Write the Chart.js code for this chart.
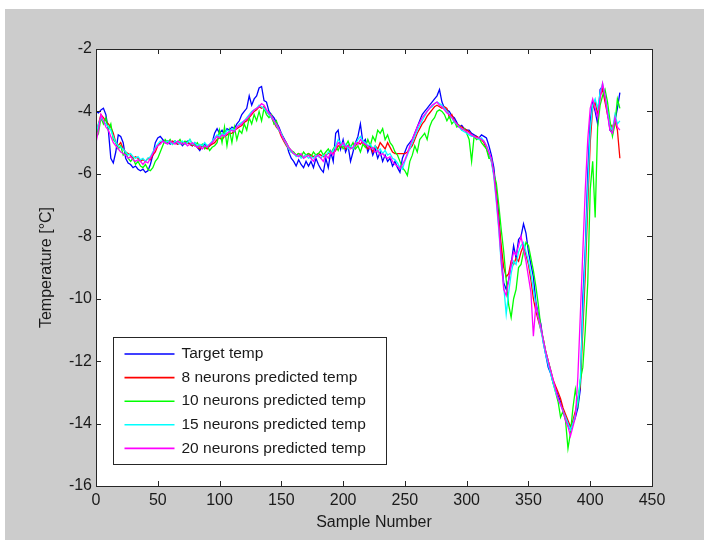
<!DOCTYPE html>
<html><head><meta charset="utf-8">
<script src="https://cdn.jsdelivr.net/npm/chart.js@4"></script>
<style>html,body{margin:0;padding:0;background:#fff;}#wrap{width:704px;height:540px;}</style>
</head><body><div id="wrap"><canvas id="c" width="704" height="540"></canvas></div>
<script>
const sampleStep = 2;
const seriesLabels = ['Target temp','8 neurons predicted temp','10 neurons predicted temp','15 neurons predicted temp','20 neurons predicted temp'];
const seriesColors = ['#0000ff','#ff0000','#00ff00','#00ffff','#ff00ff'];
const xTicks = [0,50,100,150,200,250,300,350,400,450];
const yTicks = [-16,-14,-12,-10,-8,-6,-4,-2];

const target = [
-4.0,-4.05,-3.95,-3.9,-4.1,-4.6,-5.5,-5.65,-5.3,-4.75,
-4.8,-5.0,-5.5,-5.65,-5.7,-5.8,-5.75,-5.85,-5.9,-5.85,
-5.95,-5.9,-5.7,-5.4,-5.0,-4.85,-4.8,-4.9,-5.0,-4.95,
-5.05,-5.0,-4.95,-5.05,-5.0,-5.1,-5.0,-4.95,-5.05,-5.1,
-5.0,-5.15,-5.25,-5.1,-5.05,-5.15,-5.1,-5.0,-4.7,-4.55,
-4.7,-4.6,-4.75,-4.55,-4.6,-4.5,-4.55,-4.4,-4.3,-4.1,
-4.0,-3.9,-3.5,-3.8,-3.6,-3.5,-3.25,-3.2,-3.65,-3.7,
-4.0,-4.1,-4.2,-4.35,-4.5,-4.7,-4.85,-5.0,-5.3,-5.5,
-5.6,-5.75,-5.55,-5.7,-5.8,-5.6,-5.75,-5.6,-5.8,-5.5,
-5.7,-5.85,-5.95,-5.5,-5.8,-5.3,-5.6,-4.7,-4.6,-5.2,
-4.9,-5.3,-5.1,-5.6,-5.3,-5.0,-4.8,-4.4,-5.0,-4.9,
-5.3,-5.1,-5.4,-5.2,-5.5,-5.3,-5.6,-5.4,-5.6,-5.5,
-5.75,-5.6,-5.8,-5.95,-5.5,-5.3,-5.1,-5.0,-4.9,-4.7,
-4.5,-4.3,-4.1,-4.0,-3.9,-3.8,-3.7,-3.6,-3.5,-3.3,
-3.7,-3.9,-3.95,-4.0,-4.15,-4.2,-4.35,-4.5,-4.45,-4.55,
-4.6,-4.6,-4.7,-4.75,-4.8,-4.85,-4.75,-4.8,-4.85,-5.1,
-5.4,-5.8,-6.6,-7.3,-8.7,-9.5,-9.7,-9.4,-8.9,-8.3,
-8.7,-8.1,-8.0,-7.6,-7.9,-8.5,-8.9,-9.3,-10.1,-10.5,
-10.8,-11.4,-11.8,-12.2,-12.4,-12.7,-12.9,-13.1,-13.3,-13.6,
-13.8,-14.0,-14.2,-14.0,-13.8,-13.5,-12.9,-10.0,-8.4,-6.0,
-4.3,-3.7,-4.0,-4.4,-3.3,-3.2,-3.6,-4.0,-4.6,-4.7,
-4.3,-3.9,-3.4];

const pred8 = [
-4.8,-4.4,-4.1,-4.2,-4.3,-4.4,-4.5,-4.7,-5.0,-5.1,
-5.0,-5.2,-5.3,-5.35,-5.4,-5.5,-5.45,-5.5,-5.6,-5.55,
-5.6,-5.5,-5.55,-5.4,-5.3,-5.1,-5.0,-4.95,-5.0,-4.95,
-5.0,-4.95,-5.0,-5.05,-5.0,-5.0,-5.05,-5.0,-5.05,-5.1,
-5.05,-5.15,-5.2,-5.1,-5.15,-5.2,-5.1,-5.05,-5.0,-4.9,
-4.85,-4.9,-4.8,-4.75,-4.7,-4.7,-4.6,-4.55,-4.5,-4.45,
-4.35,-4.3,-4.2,-4.1,-4.0,-3.95,-3.85,-3.9,-3.85,-4.0,
-4.1,-4.2,-4.35,-4.5,-4.6,-4.8,-4.95,-5.1,-5.2,-5.3,
-5.35,-5.4,-5.35,-5.4,-5.45,-5.4,-5.35,-5.4,-5.45,-5.4,
-5.35,-5.4,-5.45,-5.4,-5.35,-5.3,-5.35,-5.25,-5.1,-5.15,
-5.1,-5.2,-5.1,-5.15,-5.2,-5.1,-5.0,-5.05,-4.95,-5.1,
-5.2,-5.1,-5.3,-5.1,-5.2,-5.0,-5.1,-5.2,-5.0,-5.15,
-5.3,-5.35,-5.35,-5.35,-5.35,-5.35,-5.3,-5.2,-5.1,-4.9,
-4.7,-4.55,-4.4,-4.3,-4.15,-4.05,-3.95,-3.85,-3.8,-3.85,
-3.9,-3.85,-3.9,-4.2,-4.1,-4.3,-4.4,-4.45,-4.5,-4.55,
-4.6,-4.65,-4.75,-4.8,-4.8,-4.85,-4.9,-5.0,-5.2,-5.4,
-5.6,-6.0,-6.6,-7.5,-8.3,-9.0,-9.3,-9.2,-8.8,-8.9,
-8.7,-8.8,-8.5,-8.3,-8.6,-8.9,-9.4,-10.0,-10.4,-10.7,
-11.0,-11.3,-11.7,-12.0,-12.3,-12.6,-12.8,-13.0,-13.2,-13.5,
-13.7,-13.9,-14.1,-13.9,-13.6,-13.2,-12.8,-11.0,-9.2,-7.0,
-5.0,-3.9,-3.7,-4.1,-3.5,-3.3,-3.7,-4.1,-4.4,-4.5,
-4.3,-4.6,-5.5];

const pred10 = [
-4.5,-4.7,-4.2,-4.4,-4.2,-4.6,-4.4,-4.9,-5.0,-5.2,
-5.1,-5.4,-5.3,-5.5,-5.6,-5.5,-5.7,-5.6,-5.75,-5.8,
-5.7,-5.85,-5.9,-5.8,-5.6,-5.5,-5.3,-5.1,-4.9,-5.0,
-4.9,-5.05,-4.95,-5.0,-4.9,-5.05,-4.95,-5.0,-4.9,-5.05,
-5.1,-5.0,-5.15,-5.05,-5.2,-5.1,-5.25,-5.15,-5.1,-5.0,
-4.6,-5.0,-4.5,-5.1,-4.6,-5.0,-4.5,-4.9,-4.6,-4.7,
-4.4,-4.6,-4.2,-4.4,-4.1,-4.3,-4.0,-4.3,-3.9,-4.1,
-4.2,-4.1,-4.4,-4.3,-4.6,-4.7,-4.9,-5.0,-5.15,-5.25,
-5.3,-5.4,-5.35,-5.45,-5.3,-5.4,-5.35,-5.45,-5.3,-5.4,
-5.35,-5.25,-5.4,-5.3,-5.2,-5.35,-5.2,-5.1,-5.25,-5.05,
-5.2,-5.1,-4.95,-5.15,-5.0,-5.2,-5.1,-5.3,-5.05,-5.15,
-4.9,-5.1,-4.8,-4.95,-4.6,-4.7,-4.55,-4.9,-4.75,-5.0,
-5.1,-5.3,-5.4,-5.6,-5.8,-5.9,-6.05,-5.6,-5.4,-5.1,
-5.3,-4.9,-4.8,-4.7,-4.9,-4.5,-4.3,-4.2,-4.0,-3.95,
-4.0,-4.1,-4.3,-4.15,-4.4,-4.3,-4.5,-4.45,-4.6,-4.55,
-4.7,-4.9,-5.6,-4.8,-4.9,-4.85,-5.0,-5.1,-5.2,-5.5,
-5.5,-6.0,-6.3,-7.0,-7.8,-8.5,-9.4,-10.2,-10.6,-10.0,
-9.7,-9.0,-8.9,-8.5,-8.2,-8.3,-8.7,-9.1,-9.6,-10.2,
-10.9,-11.3,-11.7,-12.0,-12.3,-12.7,-13.0,-13.3,-13.8,-13.6,
-13.9,-14.8,-14.3,-13.5,-12.9,-13.4,-12.6,-12.2,-11.0,-9.5,
-6.5,-5.6,-7.4,-4.5,-3.8,-3.5,-3.3,-3.7,-4.3,-4.8,
-4.4,-3.6,-3.9];

const pred15 = [
-4.7,-4.4,-4.2,-4.3,-4.4,-4.5,-4.6,-4.8,-5.0,-5.1,
-5.15,-5.2,-5.3,-5.4,-5.35,-5.45,-5.5,-5.45,-5.55,-5.5,
-5.6,-5.5,-5.45,-5.3,-5.15,-5.05,-4.95,-4.95,-5.0,-4.95,
-5.0,-5.05,-4.95,-5.0,-5.05,-4.95,-5.05,-5.0,-4.9,-5.05,
-5.0,-5.1,-5.05,-5.1,-5.0,-5.1,-5.05,-4.95,-4.85,-4.75,
-4.8,-4.7,-4.75,-4.6,-4.65,-4.55,-4.6,-4.5,-4.4,-4.35,
-4.3,-4.2,-4.1,-4.0,-3.95,-3.9,-3.8,-3.85,-3.9,-4.0,
-4.1,-4.2,-4.3,-4.45,-4.6,-4.7,-4.9,-5.05,-5.2,-5.3,
-5.35,-5.45,-5.4,-5.5,-5.45,-5.4,-5.5,-5.45,-5.5,-5.4,
-5.45,-5.5,-5.4,-5.45,-5.3,-5.35,-5.25,-5.1,-4.9,-5.0,
-5.1,-5.05,-5.2,-5.1,-5.2,-5.05,-4.9,-4.8,-4.95,-5.0,
-5.1,-5.05,-5.2,-5.1,-5.3,-5.2,-5.35,-5.25,-5.4,-5.35,
-5.5,-5.55,-5.65,-5.8,-5.85,-5.6,-5.4,-5.2,-5.0,-4.8,
-4.6,-4.45,-4.3,-4.15,-4.0,-3.9,-3.85,-3.75,-3.7,-3.75,
-3.8,-3.9,-4.0,-4.1,-4.2,-4.35,-4.4,-4.5,-4.6,-4.65,
-4.7,-4.75,-4.8,-4.8,-4.85,-4.9,-4.85,-4.95,-5.1,-5.3,
-5.6,-6.1,-6.9,-7.8,-8.9,-9.6,-10.5,-9.8,-9.2,-8.8,
-8.9,-8.5,-8.3,-8.2,-8.5,-8.8,-9.2,-9.7,-10.2,-10.6,
-11.0,-11.4,-11.8,-12.1,-12.4,-12.7,-13.0,-13.2,-13.4,-13.6,
-13.8,-14.0,-14.2,-14.0,-13.7,-13.3,-12.6,-10.5,-8.6,-6.5,
-4.6,-3.8,-3.6,-3.9,-3.4,-3.1,-3.5,-4.0,-4.5,-4.6,
-4.1,-4.4,-4.3];

const pred20 = [
-5.0,-4.6,-4.1,-4.3,-4.5,-4.6,-4.8,-5.0,-5.1,-5.2,
-5.3,-5.35,-5.4,-5.5,-5.45,-5.55,-5.6,-5.55,-5.6,-5.7,
-5.6,-5.65,-5.5,-5.35,-5.2,-5.1,-5.05,-4.95,-5.0,-5.05,
-4.95,-5.0,-5.05,-4.95,-5.0,-5.05,-5.0,-5.1,-5.05,-5.0,
-5.1,-5.15,-5.1,-5.2,-5.1,-5.15,-5.05,-5.0,-4.9,-4.8,
-4.85,-4.75,-4.8,-4.7,-4.65,-4.6,-4.65,-4.5,-4.45,-4.4,
-4.3,-4.25,-4.15,-4.05,-3.95,-3.9,-3.85,-3.75,-3.8,-3.95,
-4.05,-4.15,-4.3,-4.4,-4.55,-4.75,-4.9,-5.0,-5.15,-5.25,
-5.35,-5.4,-5.45,-5.35,-5.5,-5.45,-5.4,-5.5,-5.6,-5.45,
-5.4,-5.5,-5.6,-5.4,-5.5,-5.3,-5.4,-5.2,-5.0,-5.1,
-5.0,-5.15,-5.1,-5.2,-5.15,-5.0,-5.05,-4.9,-5.0,-5.05,
-5.1,-5.2,-5.15,-5.3,-5.25,-5.4,-5.35,-5.45,-5.5,-5.45,
-5.6,-5.7,-5.75,-5.85,-5.7,-5.55,-5.35,-5.1,-4.9,-4.7,
-4.5,-4.35,-4.2,-4.1,-4.0,-3.9,-3.8,-3.75,-3.7,-3.8,
-3.85,-3.95,-4.05,-4.1,-4.2,-4.3,-4.4,-4.5,-4.55,-4.6,
-4.65,-4.7,-4.75,-4.8,-4.85,-4.85,-4.9,-4.95,-5.1,-5.3,
-5.5,-6.0,-6.8,-7.7,-8.8,-9.7,-9.9,-9.4,-8.9,-8.5,
-8.6,-8.3,-8.0,-8.4,-8.8,-9.3,-9.8,-11.2,-10.2,-10.6,
-10.9,-11.3,-11.7,-12.0,-12.3,-12.6,-12.9,-13.2,-13.4,-13.6,
-13.9,-14.1,-14.4,-14.1,-13.8,-12.5,-10.5,-8.5,-6.5,-4.9,
-3.9,-3.6,-3.9,-4.2,-3.6,-3.1,-3.5,-4.1,-4.6,-4.7,
-4.2,-4.5,-4.6];

const allSeries = [target, pred8, pred10, pred15, pred20];
const FONT = '"Liberation Sans", Arial, sans-serif';

const datasets = allSeries.map((vals, i) => ({
  label: seriesLabels[i],
  data: vals.map((v, k) => ({x: k * sampleStep, y: v})),
  borderColor: seriesColors[i],
  backgroundColor: seriesColors[i],
  borderWidth: 1.3,
  pointRadius: 0,
  tension: 0,
  fill: false,
  order: allSeries.length - 1 - i
}));

const matlabFrame = {
  id: 'matlabFrame',
  beforeDraw(chart) {
    const ctx = chart.ctx, a = chart.chartArea;
    ctx.save();
    ctx.fillStyle = '#ffffff';
    ctx.fillRect(0, 0, chart.width, chart.height);
    ctx.fillStyle = '#cccccc';
    ctx.fillRect(5, 9, chart.width - 5, chart.height - 9);
    ctx.fillStyle = '#ffffff';
    ctx.fillRect(a.left, a.top, a.right - a.left, a.bottom - a.top);
    ctx.restore();
  },
  afterDraw(chart) {
    const ctx = chart.ctx, a = chart.chartArea;
    const xs = chart.scales.x, ys = chart.scales.y;
    ctx.save();
    ctx.strokeStyle = '#262626';
    ctx.lineWidth = 1;
    ctx.strokeRect(a.left + 0.5, a.top + 0.5, a.right - a.left, a.bottom - a.top);
    const tl = 5;
    ctx.beginPath();
    xTicks.forEach(v => {
      if (v === xs.min || v === xs.max) return;
      const px = Math.round(xs.getPixelForValue(v)) + 0.5;
      ctx.moveTo(px, a.bottom); ctx.lineTo(px, a.bottom - tl);
      ctx.moveTo(px, a.top); ctx.lineTo(px, a.top + tl);
    });
    yTicks.forEach(v => {
      if (v === ys.min || v === ys.max) return;
      const py = Math.round(ys.getPixelForValue(v)) + 0.5;
      ctx.moveTo(a.left, py); ctx.lineTo(a.left + tl, py);
      ctx.moveTo(a.right, py); ctx.lineTo(a.right - tl, py);
    });
    ctx.stroke();

    // legend box inside the axes (lower-left)
    const bx = a.left + 17.5, by = a.top + 288.5, bw = 273, bh = 127;
    ctx.fillStyle = '#ffffff';
    ctx.fillRect(bx, by, bw, bh);
    ctx.strokeStyle = '#262626';
    ctx.lineWidth = 1;
    ctx.strokeRect(bx, by, bw, bh);
    ctx.font = '15.5px ' + FONT;
    ctx.textBaseline = 'middle';
    ctx.textAlign = 'left';
    chart.data.datasets.forEach((ds, i) => {
      const ry = by + 16.5 + i * 23.6;
      ctx.strokeStyle = ds.borderColor;
      ctx.lineWidth = 1.6;
      ctx.beginPath();
      ctx.moveTo(bx + 11, ry);
      ctx.lineTo(bx + 61, ry);
      ctx.stroke();
      ctx.fillStyle = '#1a1a1a';
      ctx.fillText(ds.label, bx + 68, ry);
    });
    ctx.restore();
  }
};

new Chart(document.getElementById('c'), {
  type: 'line',
  data: { datasets },
  options: {
    responsive: false,
    animation: false,
    devicePixelRatio: 1,
    layout: { padding: { top: 49, right: 52, left: 0, bottom: 0 } },
    plugins: { legend: { display: false }, tooltip: { enabled: false } },
    scales: {
      x: {
        type: 'linear', min: 0, max: 450,
        afterBuildTicks: s => { s.ticks = xTicks.map(v => ({ value: v })); },
        ticks: { color: '#1a1a1a', font: { family: FONT, size: 16 }, padding: 5, maxRotation: 0 },
        grid: { display: false, drawTicks: false },
        border: { display: false },
        title: { display: true, text: 'Sample Number', color: '#1a1a1a', font: { family: FONT, size: 16 }, padding: { top: 0, bottom: 8 } },
        afterFit: s => { s.height = 54; }
      },
      y: {
        type: 'linear', min: -16, max: -2,
        afterBuildTicks: s => { s.ticks = yTicks.map(v => ({ value: v })); },
        ticks: { color: '#1a1a1a', font: { family: FONT, size: 16 }, padding: 4 },
        grid: { display: false, drawTicks: false },
        border: { display: false },
        title: { display: true, text: 'Temperature [°C]', color: '#1a1a1a', font: { family: FONT, size: 16 }, padding: { top: 37, bottom: 0 } },
        afterFit: s => { s.width = 96; }
      }
    }
  },
  plugins: [matlabFrame]
});
</script>
</body></html>
